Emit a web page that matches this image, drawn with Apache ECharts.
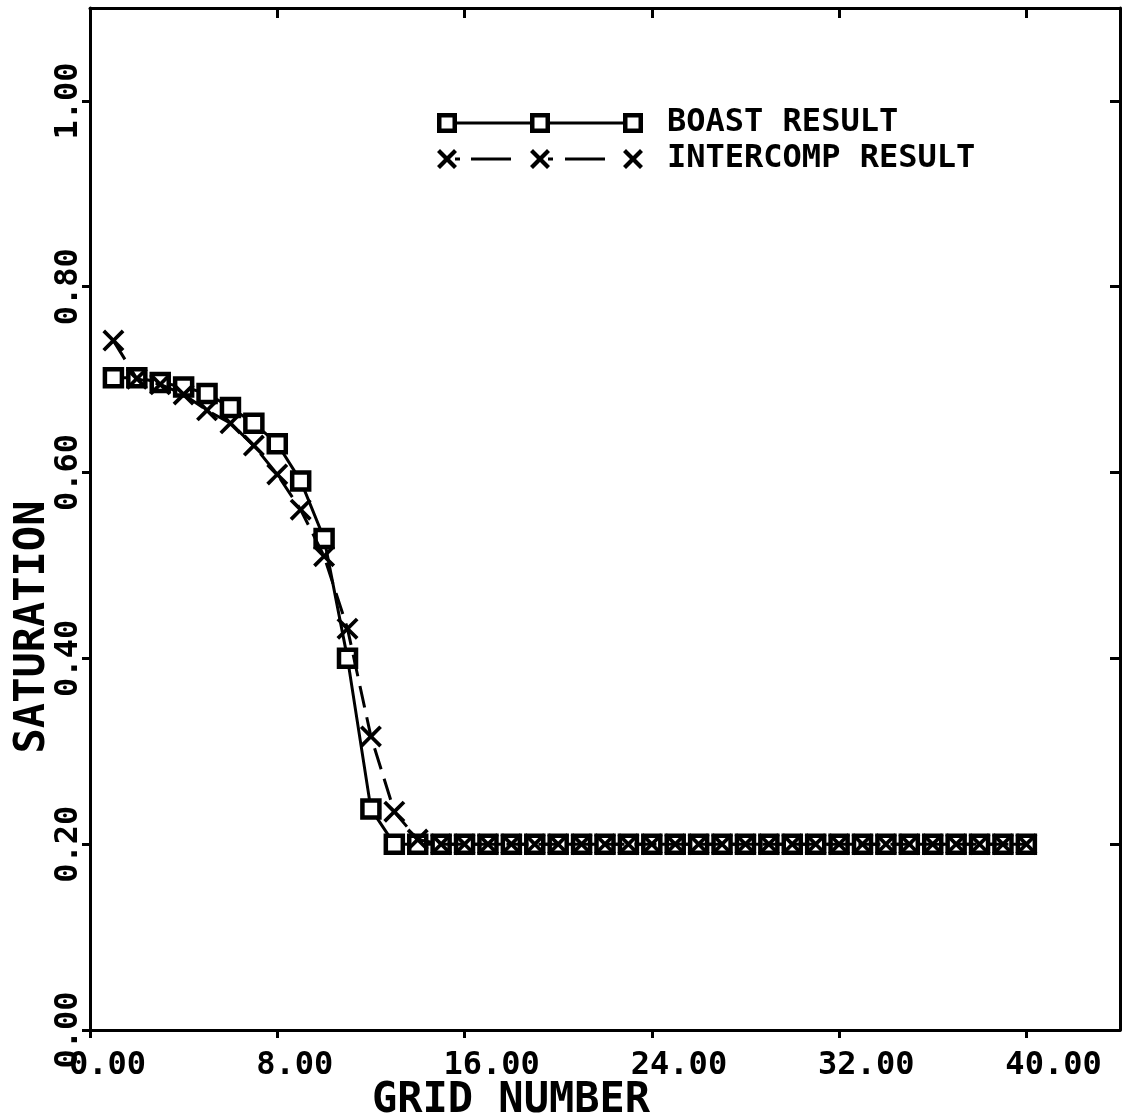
<!DOCTYPE html>
<html>
<head>
<meta charset="utf-8">
<script src="https://cdn.jsdelivr.net/npm/echarts@6/dist/echarts.min.js"></script>
<style>
html,body{margin:0;padding:0;background:#fff;}
#chart{width:1130px;height:1119px;}
</style>
</head>
<body>
<div id="chart"></div>
<script>
// ---- data ----
var gridNumber = [1,2,3,4,5,6,7,8,9,10,11,12,13,14,15,16,17,18,19,20,
                  21,22,23,24,25,26,27,28,29,30,31,32,33,34,35,36,37,38,39,40];
var boastResult = [0.702,0.702,0.697,0.692,0.685,0.670,0.653,0.631,0.591,0.529,
                   0.400,0.238,0.200,0.200,0.200,0.200,0.200,0.200,0.200,0.200,
                   0.200,0.200,0.200,0.200,0.200,0.200,0.200,0.200,0.200,0.200,
                   0.200,0.200,0.200,0.200,0.200,0.200,0.200,0.200,0.200,0.200];
var intercompResult = [0.742,0.701,0.695,0.684,0.667,0.653,0.629,0.598,0.560,0.510,
                       0.432,0.316,0.235,0.205,0.200,0.200,0.200,0.200,0.200,0.200,
                       0.200,0.200,0.200,0.200,0.200,0.200,0.200,0.200,0.200,0.200,
                       0.200,0.200,0.200,0.200,0.200,0.200,0.200,0.200,0.200,0.200];
var xTicks = [0, 8, 16, 24, 32, 40];
var yTicks = [0, 0.2, 0.4, 0.6, 0.8, 1.0];
var seriesNames = ['BOAST RESULT', 'INTERCOMP RESULT'];

// ---- styling helpers ----
var MONO = '"DejaVu Sans Mono", "Liberation Mono", monospace';
var X_PATH = 'path://M0,1.2L1.2,0L5,3.8L8.8,0L10,1.2L6.2,5L10,8.8L8.8,10L5,6.2L1.2,10L0,8.8L3.8,5Z';

function pairs(xs, ys) {
  var out = [];
  for (var i = 0; i < xs.length; i++) out.push([xs[i], ys[i]]);
  return out;
}
// legend glyphs (line with three markers), drawn in a 206 x 20 box
function rectPath(x0, y0, x1, y1) {
  return 'M' + x0 + ',' + y0 + 'L' + x1 + ',' + y0 + 'L' + x1 + ',' + y1 + 'L' + x0 + ',' + y1 + 'Z';
}
function holeSquare(x0) {
  // outer clockwise, inner counter-clockwise -> hollow square
  return rectPath(x0, 0, x0 + 20, 20) +
    'M' + (x0 + 4.5) + ',4.5L' + (x0 + 4.5) + ',15.5L' + (x0 + 15.5) + ',15.5L' + (x0 + 15.5) + ',4.5Z';
}
function xMark(x0) {
  var p = [[0,3],[3,0],[10,7],[17,0],[20,3],[13,10],[20,17],[17,20],[10,13],[3,20],[0,17],[7,10]];
  var s = '';
  for (var i = 0; i < p.length; i++) s += (i ? 'L' : 'M') + (x0 + p[i][0]) + ',' + p[i][1];
  return s + 'Z';
}
var boastIcon = 'path://' + holeSquare(0) + rectPath(20, 8.5, 93, 11.5) + holeSquare(93) +
                rectPath(113, 8.5, 186, 11.5) + holeSquare(186);
var intercompIcon = 'path://' + xMark(0) + rectPath(18, 8.5, 23, 11.5) + rectPath(34, 8.5, 74, 11.5) +
                    xMark(93) + rectPath(111, 8.5, 116, 11.5) + rectPath(128, 8.5, 168, 11.5) + xMark(186);

var chart = echarts.init(document.getElementById('chart'));
var axisLineStyle = { color: '#000', width: 3 };
var legendItemStyle = { color: '#000', borderColor: '#000', borderWidth: 0 };
var option = {
  backgroundColor: '#fff',
  animation: false,
  grid: { left: 90, right: 10, top: 8, bottom: 89, outerBoundsMode: 'none', containLabel: false },
  legend: {
    orient: 'vertical',
    left: 432,
    top: 102,
    itemWidth: 206,
    itemHeight: 20,
    itemGap: 4,
    symbolKeepAspect: false,
    textStyle: { fontFamily: MONO, fontWeight: 'bold', fontSize: 32, color: '#000', padding: [0, 0, 0, 19] },
    data: [
      { name: seriesNames[0], icon: boastIcon, itemStyle: legendItemStyle },
      { name: seriesNames[1], icon: intercompIcon, itemStyle: legendItemStyle }
    ]
  },
  xAxis: [{
    type: 'value', position: 'bottom', min: 0, max: 44, interval: 8,
    name: 'GRID NUMBER', nameLocation: 'middle', nameGap: 50, nameMoveOverlap: false,
    nameTextStyle: { fontFamily: MONO, fontWeight: 'bold', fontSize: 42, color: '#000', padding: [0, 188, 0, 0] },
    axisLine: { show: true, lineStyle: axisLineStyle },
    axisTick: { show: true, inside: false, length: 8, customValues: xTicks, lineStyle: { color: '#000', width: 3 } },
    axisLabel: {
      customValues: xTicks, align: 'left', padding: [0, 0, 0, -21], margin: 20,
      fontFamily: MONO, fontWeight: 'bold', fontSize: 32, color: '#000',
      formatter: function (v) { return v.toFixed(2); }
    },
    splitLine: { show: false }
  }, {
    type: 'value', position: 'top', min: 0, max: 44, interval: 8,
    axisLine: { show: true, onZero: false, lineStyle: axisLineStyle },
    axisTick: { show: true, inside: true, length: 10, customValues: xTicks, lineStyle: { color: '#000', width: 3 } },
    axisLabel: { show: false },
    splitLine: { show: false }
  }],
  yAxis: [{
    type: 'value', position: 'left', min: 0, max: 1.1, interval: 0.2,
    name: 'SATURATION', nameLocation: 'middle', nameGap: 36, nameRotate: 90, nameMoveOverlap: false,
    nameTextStyle: { fontFamily: MONO, fontWeight: 'bold', fontSize: 42, color: '#000', padding: [0, 216, 0, 0] },
    axisLine: { show: true, lineStyle: axisLineStyle },
    axisTick: { show: true, inside: false, length: 8, customValues: yTicks, lineStyle: { color: '#000', width: 3 } },
    axisLabel: {
      customValues: yTicks, rotate: 90, margin: 5,
      fontFamily: MONO, fontWeight: 'bold', fontSize: 32, color: '#000',
      formatter: function (v) { return v.toFixed(2); }
    },
    splitLine: { show: false }
  }, {
    type: 'value', position: 'right', min: 0, max: 1.1, interval: 0.2,
    axisLine: { show: true, onZero: false, lineStyle: axisLineStyle },
    axisTick: { show: true, inside: true, length: 10, customValues: yTicks, lineStyle: { color: '#000', width: 3 } },
    axisLabel: { show: false },
    splitLine: { show: false }
  }],
  series: [{
    name: seriesNames[0],
    type: 'line',
    data: pairs(gridNumber, boastResult),
    symbol: 'rect',
    symbolSize: 17,
    showAllSymbol: true,
    lineStyle: { color: '#000', width: 3, type: 'solid' },
    itemStyle: { color: '#fff', borderColor: '#000', borderWidth: 4.5 },
    z: 3
  }, {
    name: seriesNames[1],
    type: 'line',
    data: pairs(gridNumber, intercompResult),
    symbol: X_PATH,
    symbolSize: 22,
    showAllSymbol: true,
    lineStyle: { color: '#000', width: 3, type: [22, 10] },
    itemStyle: { color: '#000', borderColor: '#000', borderWidth: 0 },
    z: 4
  }]
};
chart.setOption(option);
</script>
</body>
</html>
